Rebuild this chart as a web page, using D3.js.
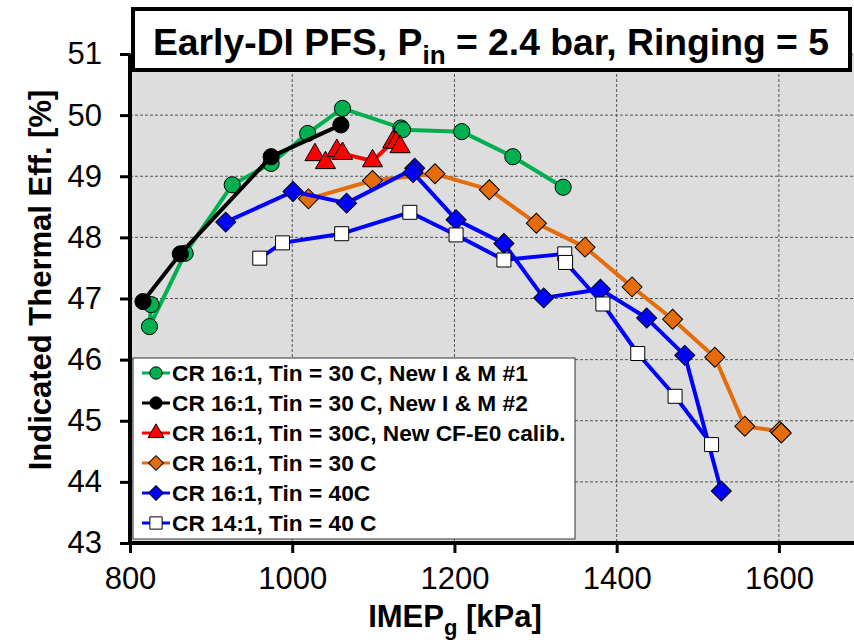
<!DOCTYPE html>
<html>
<head>
<meta charset="utf-8">
<script src="https://cdn.jsdelivr.net/npm/d3@7"></script>
<style>
  body { margin: 0; background: #fff; }
  svg { display: block; font-family: Arial, "Liberation Sans", sans-serif; }
</style>
</head>
<body>
<div id="viz"></div>
<script>
// values
const legendLabels = [
  "CR 16:1, Tin = 30 C, New I & M #1",
  "CR 16:1, Tin = 30 C, New I & M #2",
  "CR 16:1, Tin = 30C, New CF-E0 calib.",
  "CR 16:1, Tin = 30 C",
  "CR 16:1, Tin = 40C",
  "CR 14:1, Tin = 40 C"
];

const imepNewIM1 = [826, 824, 868, 926, 974, 1019, 1062, 1134, 1136, 1209, 1272, 1334];
const effNewIM1  = [46.90, 46.54, 47.74, 48.86, 49.21, 49.70, 50.11, 49.79, 49.76, 49.73, 49.32, 48.82];

const imepNewIM2 = [816, 862, 974, 1060];
const effNewIM2  = [46.95, 47.73, 49.32, 49.84];

const imepCalib = [1028, 1041, 1055, 1062, 1099, 1124, 1128, 1133];
const effCalib  = [49.35, 49.22, 49.42, 49.37, 49.25, 49.56, 49.55, 49.48];

const imepT30 = [1020, 1099, 1176, 1243, 1301, 1361, 1419, 1469, 1521, 1558, 1601, 1603];
const effT30  = [48.63, 48.93, 49.04, 48.78, 48.23, 47.84, 47.19, 46.66, 46.04, 44.91, 44.83, 44.80];

const imepT40 = [918, 1001, 1067, 1151, 1149, 1202, 1261, 1310, 1380, 1437, 1484, 1529];
const effT40  = [48.25, 48.75, 48.56, 49.13, 49.06, 48.29, 47.90, 47.01, 47.15, 46.68, 46.07, 43.85];

const imepCR14 = [960, 988, 1061, 1145, 1202, 1261, 1336, 1337, 1383, 1426, 1472, 1517];
const effCR14  = [47.66, 47.91, 48.06, 48.41, 48.04, 47.63, 47.73, 47.59, 46.91, 46.10, 45.40, 44.61];

const xTicks = [800, 1000, 1200, 1400, 1600];
const yTicks = [43, 44, 45, 46, 47, 48, 49, 50, 51];

const series = [
  { name: legendLabels[0], x: imepNewIM1, y: effNewIM1, line: "#00b050", fill: "#00b050", shape: "circle" },
  { name: legendLabels[1], x: imepNewIM2, y: effNewIM2, line: "#000000", fill: "#000000", shape: "circle" },
  { name: legendLabels[2], x: imepCalib, y: effCalib, line: "#ff0000", fill: "#ff0000", shape: "triangle" },
  { name: legendLabels[3], x: imepT30, y: effT30, line: "#e46c0a", fill: "#e46c0a", shape: "diamond" },
  { name: legendLabels[4], x: imepT40, y: effT40, line: "#0000ff", fill: "#0000ff", shape: "diamond" },
  { name: legendLabels[5], x: imepCR14, y: effCR14, line: "#0000ff", fill: "#ffffff", shape: "square" }
];

const width = 854;
const height = 642;

const svg = d3.select("#viz")
  .append("svg")
  .attr("width", width)
  .attr("height", height);

const x = d3.scaleLinear().domain([800, 1700]).range([130, 860]);
const y = d3.scaleLinear().domain([43, 51]).range([543, 54]);

// plot area
svg.append("rect")
  .attr("x", x(800)).attr("y", y(51))
  .attr("width", x(1700) - x(800)).attr("height", y(43) - y(51))
  .attr("fill", "#dddddd");

// grid
const grid = svg.append("g");
grid.selectAll("line.v")
  .data(xTicks.slice(1))
  .enter().append("line")
  .attr("x1", d => x(d)).attr("x2", d => x(d))
  .attr("y1", y(51)).attr("y2", y(43))
  .attr("stroke", "#555").attr("stroke-width", 1).attr("stroke-dasharray", "3,2");
grid.selectAll("line.h")
  .data(yTicks.slice(1))
  .enter().append("line")
  .attr("x1", x(800)).attr("x2", x(1700))
  .attr("y1", d => y(d)).attr("y2", d => y(d))
  .attr("stroke", "#555").attr("stroke-width", 1).attr("stroke-dasharray", "3,2");

// axes
const xAxis = svg.append("g")
  .attr("transform", `translate(0,${y(43)})`)
  .call(d3.axisBottom(x).tickValues(xTicks).tickFormat(d3.format("d")).tickSize(10).tickPadding(14));
const yAxis = svg.append("g")
  .attr("transform", `translate(${x(800)},0)`)
  .call(d3.axisLeft(y).tickValues(yTicks).tickFormat(d3.format("d")).tickSize(10).tickPadding(18));

[xAxis, yAxis].forEach(a => {
  a.select(".domain").attr("stroke", "#000").attr("stroke-width", 4);
  a.selectAll(".tick line").attr("stroke", "#000").attr("stroke-width", 3);
  a.selectAll(".tick text")
    .attr("fill", "#000")
    .style("font-size", "31px")
    .style("font-family", "Arial, 'Liberation Sans', sans-serif");
});
xAxis.select(".domain").attr("d", `M${x(800)},0H${x(1700)}`);
yAxis.select(".domain").attr("d", `M0,${y(43)}V${y(51)}`);

// series
const symbolFor = {
  circle: d3.symbol().type(d3.symbolCircle).size(205),
  triangle: d3.symbol().type(d3.symbolTriangle).size(175),
  diamond: d3.symbol().type(d3.symbolSquare).size(200),
  square: d3.symbol().type(d3.symbolSquare).size(196)
};

const lineGen = d3.line().x(d => x(d[0])).y(d => y(d[1]));

series.forEach(s => {
  const pts = s.x.map((v, i) => [v, s.y[i]]);
  const g = svg.append("g");
  g.append("path")
    .attr("d", lineGen(pts))
    .attr("fill", "none")
    .attr("stroke", s.line)
    .attr("stroke-width", 4)
    .attr("stroke-linejoin", "round");
  g.selectAll("path.m")
    .data(pts)
    .enter().append("path")
    .attr("d", symbolFor[s.shape]())
    .attr("transform", d => `translate(${x(d[0])},${y(d[1])})` + (s.shape === "diamond" ? " rotate(45)" : ""))
    .attr("fill", s.fill)
    .attr("stroke", "#000")
    .attr("stroke-width", 1);
});

// legend
const legend = svg.append("g");
legend.append("rect")
  .attr("x", 133).attr("y", 358)
  .attr("width", 442).attr("height", 181)
  .attr("fill", "#fff").attr("stroke", "#333").attr("stroke-width", 1);

const legendSymbol = {
  circle: d3.symbol().type(d3.symbolCircle).size(120),
  triangle: d3.symbol().type(d3.symbolTriangle).size(110),
  diamond: d3.symbol().type(d3.symbolSquare).size(110),
  square: d3.symbol().type(d3.symbolSquare).size(150)
};

const rows = legend.selectAll("g.row")
  .data(series)
  .enter().append("g")
  .attr("transform", (d, i) => `translate(0,${373 + i * 30})`);
rows.append("line")
  .attr("x1", 142).attr("x2", 170)
  .attr("stroke", d => d.line).attr("stroke-width", 3);
rows.append("path")
  .attr("d", d => legendSymbol[d.shape]())
  .attr("transform", d => "translate(156,0)" + (d.shape === "diamond" ? " rotate(45)" : ""))
  .attr("fill", d => d.fill)
  .attr("stroke", "#000").attr("stroke-width", 1);
rows.append("text")
  .attr("x", 172).attr("y", 8)
  .style("font-size", "22.7px").style("font-weight", "bold")
  .text(d => d.name);

// title box
svg.append("rect")
  .attr("x", 133).attr("y", 9)
  .attr("width", 717).attr("height", 61)
  .attr("fill", "#fff").attr("stroke", "#000").attr("stroke-width", 4);
const title = svg.append("text")
  .attr("x", 491).attr("y", 55)
  .attr("text-anchor", "middle")
  .style("font-size", "37.3px").style("font-weight", "bold");
title.append("tspan").text("Early-DI PFS, P");
title.append("tspan").attr("dy", 9).style("font-size", "26px").text("in");
title.append("tspan").attr("dy", -9).text(" = 2.4 bar, Ringing = 5");

// axis titles
const xTitle = svg.append("text")
  .attr("x", 455).attr("y", 627)
  .attr("text-anchor", "middle")
  .style("font-size", "31px").style("font-weight", "bold");
xTitle.append("tspan").text("IMEP");
xTitle.append("tspan").attr("dy", 8).style("font-size", "22px").text("g");
xTitle.append("tspan").attr("dy", -8).text(" [kPa]");

svg.append("text")
  .attr("transform", "translate(51,280) rotate(-90)")
  .attr("text-anchor", "middle")
  .style("font-size", "31px").style("font-weight", "bold")
  .text("Indicated Thermal Eff. [%]");
</script>
</body>
</html>
